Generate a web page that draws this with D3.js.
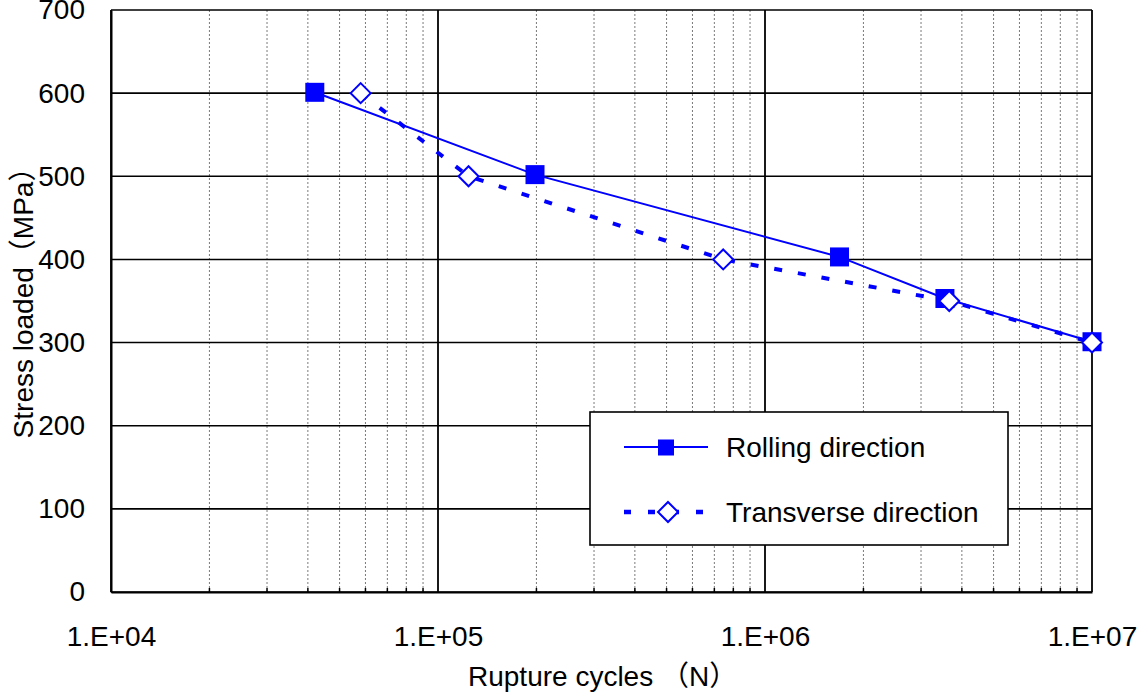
<!DOCTYPE html>
<html>
<head>
<meta charset="utf-8">
<script src="https://cdn.jsdelivr.net/npm/d3@7/dist/d3.min.js"></script>
<style>
  body { margin: 0; background: #fff; }
  text { font-family: "Liberation Sans", Arial, "Noto Sans CJK SC", sans-serif; fill: #000; }
</style>
</head>
<body>
<div id="chart"></div>
<script>
// data
var rollingCycles = [42000, 198000, 1690000, 3550000, 10000000];
var rollingStress = [601, 502, 403, 353, 301];
var transverseCycles = [58000, 124000, 745000, 3660000, 10000000];
var transverseStress = [600, 500, 400, 350, 300];
var xTickValues = [1e4, 1e5, 1e6, 1e7];
var xTickLabels = ["1.E+04", "1.E+05", "1.E+06", "1.E+07"];
var yTickValues = [0, 100, 200, 300, 400, 500, 600, 700];
var seriesNames = ["Rolling direction", "Transverse direction"];

var width = 1142;
var height = 692;
var margin = { left: 111, right: 50, top: 10, bottom: 100 };
var blue = "#0000ff";

var svg = d3.select('#chart')
    .append('svg')
    .attr('width', width)
    .attr('height', height);

var x = d3.scaleLog()
    .domain([1e4, 1e7])
    .range([margin.left, width - margin.right]);
var y = d3.scaleLinear()
    .domain([0, 700])
    .range([height - margin.bottom, margin.top]);

// minor vertical grid (dotted)
var minor = [];
[1e4, 1e5, 1e6].forEach(function (dec) {
    for (var k = 2; k <= 9; k++) minor.push(dec * k);
});
svg.append('g').selectAll('line')
    .data(minor)
    .enter().append('line')
    .attr('x1', d => x(d)).attr('x2', d => x(d))
    .attr('y1', y(700)).attr('y2', y(0))
    .attr('stroke', '#7a7a7a')
    .attr('stroke-width', 1)
    .attr('stroke-dasharray', '2,2');

// major grid
svg.append('g').selectAll('line')
    .data(yTickValues)
    .enter().append('line')
    .attr('x1', x(1e4)).attr('x2', x(1e7))
    .attr('y1', d => y(d)).attr('y2', d => y(d))
    .attr('stroke', '#000')
    .attr('stroke-width', 1.6);
svg.append('g').selectAll('line')
    .data(xTickValues)
    .enter().append('line')
    .attr('x1', d => x(d)).attr('x2', d => x(d))
    .attr('y1', y(700)).attr('y2', y(0))
    .attr('stroke', '#000')
    .attr('stroke-width', 1.8);

// small inward minor ticks on the bottom axis
svg.append('g').selectAll('line')
    .data(minor)
    .enter().append('line')
    .attr('x1', d => x(d)).attr('x2', d => x(d))
    .attr('y1', y(0)).attr('y2', y(0) - 4)
    .attr('stroke', '#000')
    .attr('stroke-width', 1.5);

// axes
var xAxis = d3.axisBottom(x)
    .tickValues(xTickValues)
    .tickFormat((d, i) => xTickLabels[i])
    .tickSize(0)
    .tickPadding(32);
var gX = svg.append('g')
    .attr('transform', 'translate(0,' + y(0) + ')')
    .call(xAxis);
gX.select('.domain').attr('stroke', '#000').attr('stroke-width', 2);
gX.selectAll('text').attr('font-size', 28).attr('dy', 0).attr('y', 54);

var yAxis = d3.axisLeft(y)
    .tickValues(yTickValues)
    .tickSize(0)
    .tickPadding(26);
var gY = svg.append('g')
    .attr('transform', 'translate(' + x(1e4) + ',0)')
    .call(yAxis);
gY.select('.domain').attr('stroke', '#000').attr('stroke-width', 2);
gY.selectAll('text').attr('font-size', 28);

// axis titles
svg.append('text')
    .attr('x', 468).attr('y', 686)
    .attr('font-size', 28)
    .text('Rupture cycles （N）');
svg.append('text')
    .attr('transform', 'translate(33,296) rotate(-90)')
    .attr('text-anchor', 'middle')
    .attr('font-size', 28)
    .text('Stress loaded（MPa）');

// series
var rolling = rollingCycles.map((c, i) => ({ c: c, s: rollingStress[i] }));
var transverse = transverseCycles.map((c, i) => ({ c: c, s: transverseStress[i] }));
var line = d3.line().x(d => x(d.c)).y(d => y(d.s));

svg.append('path')
    .datum(rolling)
    .attr('d', line)
    .attr('fill', 'none')
    .attr('stroke', blue)
    .attr('stroke-width', 2);
svg.append('g').selectAll('rect')
    .data(rolling)
    .enter().append('rect')
    .attr('x', d => x(d.c) - 9.5)
    .attr('y', d => y(d.s) - 9.5)
    .attr('width', 19).attr('height', 19)
    .attr('fill', blue);

svg.append('path')
    .datum(transverse)
    .attr('d', line)
    .attr('fill', 'none')
    .attr('stroke', blue)
    .attr('stroke-width', 4)
    .attr('stroke-dasharray', '8,16');
var diamond = 'M0,-10L10,0L0,10L-10,0Z';
svg.append('g').selectAll('path')
    .data(transverse)
    .enter().append('path')
    .attr('transform', d => 'translate(' + x(d.c) + ',' + y(d.s) + ')')
    .attr('d', diamond)
    .attr('fill', '#fff')
    .attr('stroke', blue)
    .attr('stroke-width', 2);

// legend
var lg = svg.append('g');
lg.append('rect')
    .attr('x', 590).attr('y', 412)
    .attr('width', 418).attr('height', 133)
    .attr('fill', '#fff')
    .attr('stroke', '#000')
    .attr('stroke-width', 1.6);
lg.append('line')
    .attr('x1', 624).attr('x2', 708).attr('y1', 447).attr('y2', 447)
    .attr('stroke', blue).attr('stroke-width', 2);
lg.append('rect')
    .attr('x', 658).attr('y', 439.5).attr('width', 16).attr('height', 16)
    .attr('fill', blue);
lg.append('line')
    .attr('x1', 624).attr('x2', 708).attr('y1', 512).attr('y2', 512)
    .attr('stroke', blue).attr('stroke-width', 4.5)
    .attr('stroke-dasharray', '7,17');
lg.append('path')
    .attr('transform', 'translate(668,512)')
    .attr('d', diamond)
    .attr('fill', '#fff')
    .attr('stroke', blue)
    .attr('stroke-width', 2);
lg.selectAll('text.lab')
    .data(seriesNames)
    .enter().append('text')
    .attr('class', 'lab')
    .attr('x', 726)
    .attr('y', (d, i) => 457 + i * 65)
    .attr('font-size', 28)
    .text(d => d);
</script>
</body>
</html>
